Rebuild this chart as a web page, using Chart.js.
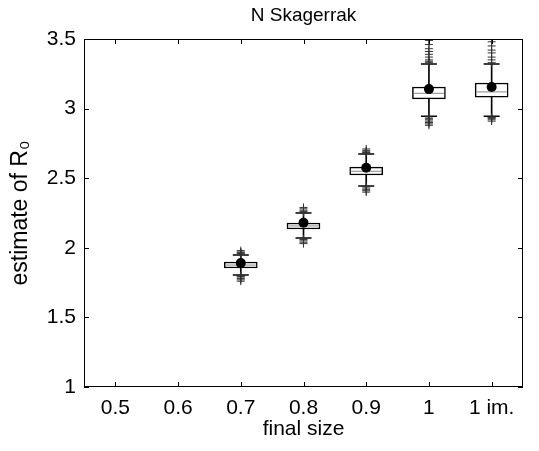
<!DOCTYPE html>
<html>
<head>
<meta charset="utf-8">
<script src="https://cdn.jsdelivr.net/npm/chart.js@4.4.1/dist/chart.umd.min.js"></script>
<style>
  html, body { margin: 0; padding: 0; background: #fff; }
</style>
</head>
<body>
<canvas id="chart" width="539" height="451"></canvas>
<script>
// categorias del eje x
const categories = ['0.5', '0.6', '0.7', '0.8', '0.9', '1', '1 im.'];

// cajas (cuartiles), mediana y media
const q1Values     = [null, null, 1.855, 2.135, 2.523, 3.070, 3.083];
const q3Values     = [null, null, 1.898, 2.178, 2.580, 3.155, 3.184];
const medianValues = [null, null, 1.876, 2.157, 2.550, 3.110, 3.120];
const meanValues   = [null, null, 1.890, 2.180, 2.575, 3.140, 3.155];

// bigotes
const whiskerLow  = [null, null, 1.805, 2.070, 2.444, 2.945, 2.945];
const whiskerHigh = [null, null, 1.948, 2.250, 2.674, 3.320, 3.320];

// valores atipicos por categoria
const outliersHigh = [
    [], [],
    [1.955, 1.96, 1.965, 1.97, 1.98],
    [2.255, 2.26, 2.27, 2.28, 2.29],
    [2.68, 2.685, 2.69, 2.70, 2.71],
    [3.33, 3.34, 3.35, 3.37, 3.39, 3.41, 3.43, 3.46, 3.49],
    [3.33, 3.35, 3.37, 3.40, 3.42, 3.45, 3.48, 3.50]
];
const outliersLow = [
    [], [],
    [1.80, 1.795, 1.79, 1.78, 1.77, 1.76],
    [2.065, 2.06, 2.05, 2.04, 2.03],
    [2.44, 2.43, 2.42, 2.41, 2.40],
    [2.94, 2.93, 2.92, 2.91, 2.90, 2.89, 2.88],
    [2.94, 2.935, 2.93, 2.92, 2.91]
];

const yTicks = { min: 1, max: 3.5, step: 0.5 };

// helpers
function pairs(lo, hi) {
    return lo.map((v, i) => (v === null || hi[i] === null) ? null : [v, hi[i]]);
}
function points(values) {
    return values.map((v, i) => ({ x: categories[i], y: v })).filter(p => p.y !== null);
}
function outlierPoints(lists) {
    const out = [];
    lists.forEach((list, i) => list.forEach(v => out.push({ x: categories[i], y: v })));
    return out;
}

// marco y marcas hacia dentro (estilo matlab)
const framePlugin = {
    id: 'frame',
    afterDatasetsDraw(chart) {
        const { ctx, chartArea: a, scales } = chart;
        const len = 5;
        ctx.save();
        ctx.strokeStyle = '#000';
        ctx.lineWidth = 1;
        ctx.strokeRect(a.left + 0.5, a.top + 0.5, a.right - a.left - 1, a.bottom - a.top - 1);
        ctx.beginPath();
        scales.y.ticks.forEach((t, i) => {
            const y = Math.round(scales.y.getPixelForTick(i)) + 0.5;
            ctx.moveTo(a.left, y); ctx.lineTo(a.left + len, y);
            ctx.moveTo(a.right, y); ctx.lineTo(a.right - len, y);
        });
        scales.x.ticks.forEach((t, i) => {
            const x = Math.round(scales.x.getPixelForTick(i)) + 0.5;
            ctx.moveTo(x, a.bottom); ctx.lineTo(x, a.bottom - len);
            ctx.moveTo(x, a.top); ctx.lineTo(x, a.top + len);
        });
        ctx.stroke();
        ctx.restore();
    }
};

Chart.defaults.color = '#000';
Chart.defaults.font.family = '"Liberation Sans", Arial, Helvetica, sans-serif';
Chart.defaults.font.size = 21;

new Chart(document.getElementById('chart'), {
    type: 'bar',
    data: {
        labels: categories,
        datasets: [
            {
                label: 'whisker',
                data: pairs(q3Values, whiskerHigh),
                backgroundColor: '#000',
                barThickness: 1,
                grouped: false,
                order: 6
            },
            {
                label: 'whisker low',
                data: pairs(whiskerLow, q1Values),
                backgroundColor: '#000',
                barThickness: 1,
                grouped: false,
                order: 6
            },
            {
                label: 'box',
                data: pairs(q1Values, q3Values),
                backgroundColor: '#fff',
                borderColor: '#000',
                borderWidth: 1.5,
                borderSkipped: false,
                barThickness: 33,
                grouped: false,
                order: 5
            },
            {
                type: 'line',
                label: 'median',
                data: points(medianValues),
                showLine: false,
                pointStyle: 'line',
                pointRadius: 15,
                borderColor: '#888',
                borderWidth: 1,
                order: 4
            },
            {
                type: 'line',
                label: 'caps',
                data: points(whiskerHigh).concat(points(whiskerLow)),
                showLine: false,
                pointStyle: 'line',
                pointRadius: 8,
                borderColor: '#000',
                borderWidth: 1.5,
                order: 3
            },
            {
                type: 'line',
                label: 'outliers',
                data: outlierPoints(outliersHigh).concat(outlierPoints(outliersLow)),
                showLine: false,
                pointStyle: 'cross',
                pointRadius: 4,
                borderColor: '#333',
                borderWidth: 1,
                order: 2
            },
            {
                type: 'line',
                label: 'mean',
                data: points(meanValues),
                showLine: false,
                pointStyle: 'circle',
                pointRadius: 5,
                backgroundColor: '#000',
                borderColor: '#000',
                borderWidth: 0,
                order: 1
            }
        ]
    },
    options: {
        responsive: false,
        animation: false,
        layout: { padding: { left: 0, right: 1, top: 0, bottom: 0 } },
        plugins: {
            legend: { display: false },
            tooltip: { enabled: false },
            title: {
                display: true,
                text: 'N Skagerrak',
                fullSize: false,
                font: { size: 19, weight: 'normal' },
                padding: { top: 4, bottom: 12.2 }
            }
        },
        scales: {
            x: {
                offset: true,
                grid: { display: false, drawTicks: false },
                border: { display: false },
                ticks: { padding: 9, maxRotation: 0, autoSkip: false },
                title: { display: true, text: 'final size', font: { size: 21 }, padding: { top: 0, bottom: 9.4 } },
                afterFit(scale) { scale.height = 64; }
            },
            y: {
                min: yTicks.min,
                max: yTicks.max,
                grid: { display: false, drawTicks: false },
                border: { display: false },
                ticks: { stepSize: yTicks.step, padding: 8, callback: v => String(v) },
                title: { display: true, text: 'estimate of R₀', font: { size: 23 }, padding: { top: 7, bottom: 0 } },
                afterFit(scale) { scale.width = 84; }
            }
        }
    },
    plugins: [framePlugin]
});
</script>
</body>
</html>
